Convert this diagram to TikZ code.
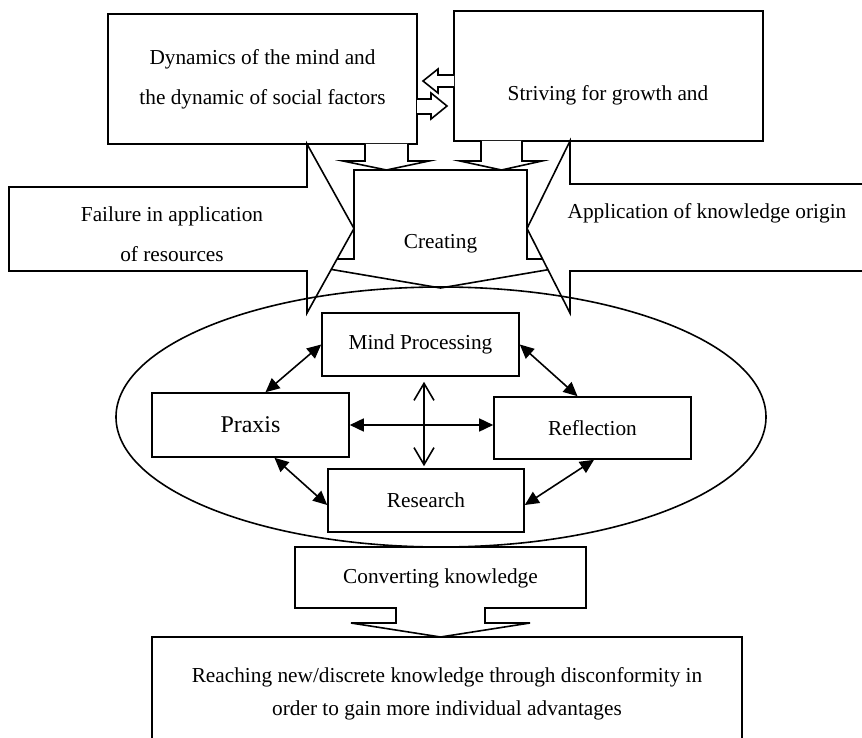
\documentclass[tikz,border=0pt]{standalone}
\usepackage{fontspec}
\setmainfont{Liberation Serif}
\usetikzlibrary{arrows.meta,shapes.geometric}

\begin{document}
\begin{tikzpicture}[x=1pt,y=-1pt,line width=1.6pt,
	rbox/.style={draw,rectangle,inner sep=0pt,align=center,font=\fontsize{21.3}{40}\selectfont},
	blockarrow/.style={draw,fill=white,line join=miter},
	txt/.style={inner sep=0pt,align=center,font=\fontsize{21.3}{40}\selectfont},
	tri/.style={<->,>={Triangle[length=14pt,width=13pt]}},
	barb/.style={<->,>={Straight Barb[length=17pt,width=20pt]},shorten <=5pt,shorten >=2pt}]
	\useasboundingbox (0,0) rectangle (862,738);

	\node[rbox, minimum width=309pt, minimum height=130pt] (dyn) at (262.5,79) {Dynamics of the mind and\\the dynamic of social factors};
	\node[rbox, minimum width=309pt, minimum height=130pt] (strive) at (608.5,76) {};
	\node[txt] (striveTxt) at (608,95) {Striving for growth and};

	\draw[blockarrow] (454,75) -- (438,75) -- (438,69) -- (423,81) -- (438,93) -- (438,87) -- (454,87);
	\draw[blockarrow] (417,99) -- (431,99) -- (431,93) -- (447,106) -- (431,119) -- (431,114) -- (417,114);
	\draw[blockarrow] (365,144) -- (365,161) -- (343,161) -- (386.5,170) -- (429,161) -- (408,161) -- (408,144);
	\draw[blockarrow] (481,141) -- (481,161) -- (460,161) -- (501.5,170) -- (542,161) -- (522,161) -- (522,141);

	\draw[blockarrow] (354,170) -- (527,170) -- (527,259) -- (611,259) -- (440.5,288) -- (270,259) -- (354,259) -- cycle;
	\draw[blockarrow] (307,144) -- (354,228.5) -- (307,313) -- (307,271) -- (9,271) -- (9,187) -- (307,187) -- cycle;
	\draw[blockarrow] (570,141) -- (527,228.5) -- (570,313) -- (570,271) -- (870,271) -- (870,184) -- (570,184) -- cycle;
	\node[txt] (create) at (440.5,244) {Creating};
	\node[txt] (failure) at (172,234.5) {Failure in application\\of resources};
	\node[txt] (apply) at (707,213) {Application of knowledge origin};

	\node[draw, ellipse, inner sep=0pt, minimum width=650pt, minimum height=260pt] (circuit) at (441,417) {};

	\node[rbox, minimum width=197pt, minimum height=63pt] (mind) at (420.5,344.5) {Mind Processing};
	\node[rbox, minimum width=197pt, minimum height=64pt, font=\fontsize{24}{28}\selectfont] (praxis) at (250.5,425) {Praxis};
	\node[rbox, minimum width=197pt, minimum height=62pt] (refl) at (592.5,428) {Reflection};
	\node[rbox, minimum width=196pt, minimum height=63pt] (research) at (426,500.5) {Research};

	\path[tri]
		([xshift=15pt]praxis.north) edge (mind.west)
		(mind.east) edge ([xshift=-15pt]refl.north)
		([xshift=24pt]praxis.south) edge ([yshift=-4.5pt]research.west)
		([xshift=1.5pt]refl.south) edge ([yshift=-4.5pt]research.east)
		(praxis.east) edge (praxis.east -| refl.west);
	\path[barb] ([xshift=3.5pt]mind.south) edge ([xshift=-2pt]research.north);

	\draw[blockarrow] (295,547) -- (586,547) -- (586,608) -- (485,608) -- (485,623) -- (530,623) -- (440.5,637) -- (351,623) -- (396,623) -- (396,608) -- (295,608) -- cycle;
	\node[txt] (convert) at (440.5,578) {Converting knowledge};

	\node[rbox, minimum width=590pt, minimum height=113pt, font=\fontsize{21.3}{33}\selectfont] (reach) at (447,693.5) {Reaching new/discrete knowledge through disconformity in\\order to gain more individual advantages};
\end{tikzpicture}
\end{document}
